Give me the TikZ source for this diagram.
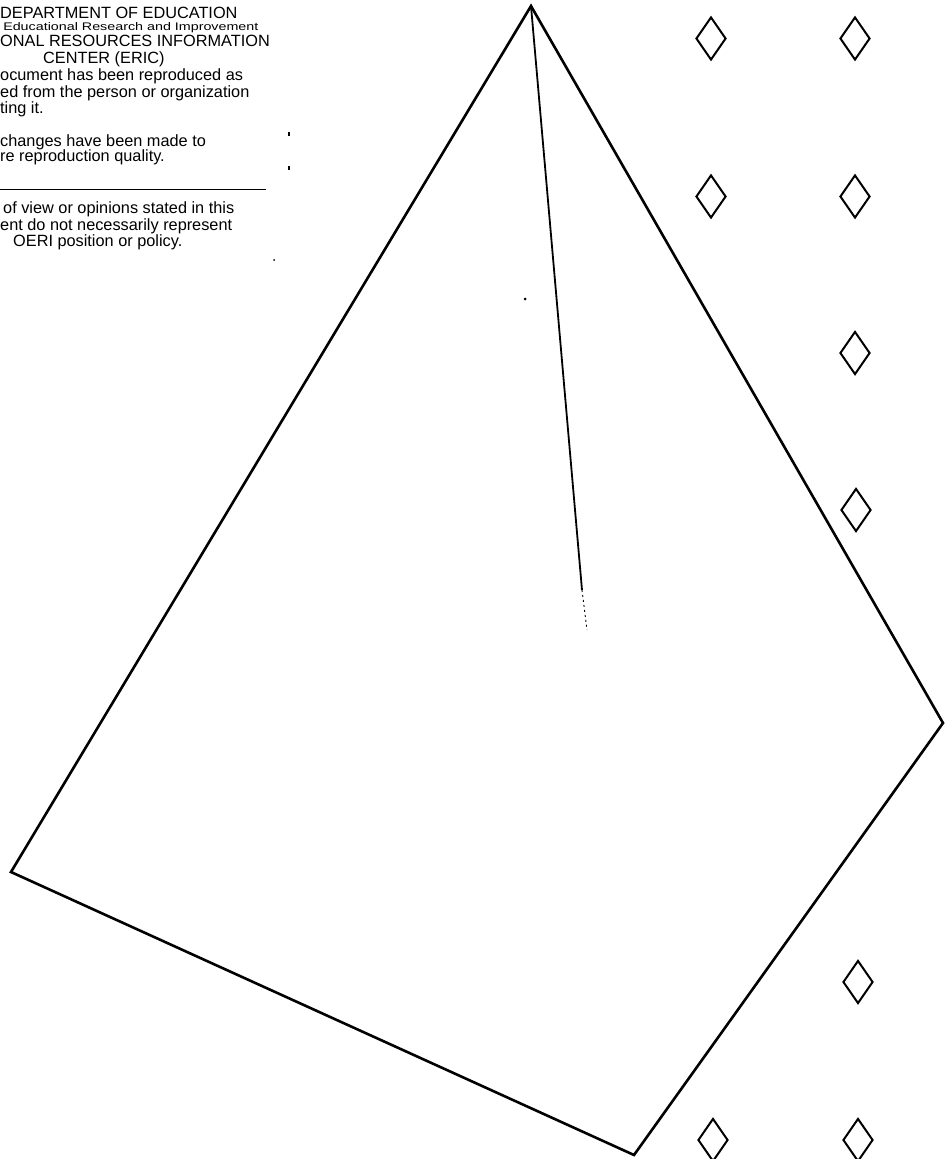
\documentclass[tikz,border=0pt]{standalone}
\usepackage{fontspec}
\newfontfamily\ericfont{Liberation Sans}
\usetikzlibrary{shapes.geometric}
\begin{document}
\begin{tikzpicture}[x=1pt,y=-1pt,
  outline/.style={line width=2.6pt, line join=miter},
  gem/.style={draw, diamond, line width=2pt, inner sep=0pt, minimum width=30pt, minimum height=43pt},
  stamp/.style={anchor=base west, inner sep=0pt, font=\ericfont\fontsize{16.3}{18}\selectfont},
  stampsmall/.style={anchor=base west, inner sep=0pt, xscale=1.3, font=\ericfont\fontsize{11}{12}\selectfont},
  speck/.style={fill=black}]
\useasboundingbox (0,0) rectangle (950,1159);
% ERIC stamp text (cropped at left edge)
\node[stamp] (t1) at (0,18) {DEPARTMENT OF EDUCATION};
\node[stampsmall] (t2) at (3,30) {Educational Research and Improvement};
\node[stamp] (t3) at (0,46) {ONAL RESOURCES INFORMATION};
\node[stamp] (t4) at (43,63) {CENTER (ERIC)};
\node[stamp] (t5) at (0,80) {ocument has been reproduced as};
\node[stamp] (t6) at (0,97) {ed from the person or organization};
\node[stamp] (t7) at (0,113) {ting it.};
\node[stamp] (t8) at (0,146) {changes have been made to};
\node[stamp] (t9) at (0,161) {re reproduction quality.};
\coordinate (r1) at (0,189);
\coordinate (r2) at (266,189);
\draw[line width=1pt] (r1) -- (r2);
\node[stamp] (t10) at (3,213) {of view or opinions stated in this};
\node[stamp] (t11) at (0,230) {ent do not necessarily represent};
\node[stamp] (t12) at (13,246) {OERI position or policy.};
% specks
\fill[speck] (288,132) rectangle (289.5,136);
\fill[speck] (288,166) rectangle (289.5,170);
\fill[speck] (274,260) circle (1pt);
\fill[speck] (525,299) circle (1.5pt);
% pyramid
\coordinate (apex) at (531,6);
\coordinate (right) at (943,723);
\coordinate (bottom) at (634,1155);
\coordinate (left) at (11,872);
\coordinate (inner) at (582,590);
\coordinate (innerend) at (587,630);
\draw[outline] (apex) -- (right) -- (bottom) -- (left) -- cycle;
\draw[line width=1.8pt] (apex) -- (inner);
\draw[line width=0.9pt, dash pattern=on 2pt off 3pt] (inner) -- (innerend);
% diamonds
\node[gem] (d1) at (711,38.5) {};
\node[gem] (d2) at (855,38.5) {};
\node[gem] (d3) at (711,196.5) {};
\node[gem] (d4) at (855,196.5) {};
\node[gem] (d5) at (855,353) {};
\node[gem] (d6) at (856,510) {};
\node[gem] (d7) at (858,982) {};
\node[gem] (d8) at (713,1140) {};
\node[gem] (d9) at (858,1140) {};
\end{tikzpicture}
\end{document}
